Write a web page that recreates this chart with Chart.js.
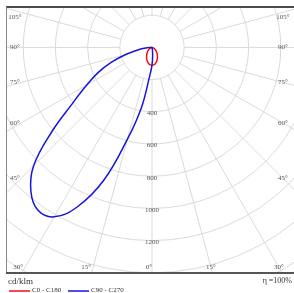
<!DOCTYPE html>
<html>
<head>
<meta charset="utf-8">
<script src="https://cdn.jsdelivr.net/npm/chart.js@4"></script>
<style>
  html, body { margin: 0; padding: 0; background: #fff; }
  #wrap { width: 294px; height: 293px; position: relative; }
</style>
</head>
<body>
<div id="wrap"><canvas id="polar"></canvas></div>
<script>
// gamma angles (deg from nadir) and intensities in cd/klm
const gammaAngles = [0, 5, 10, 15, 20, 25, 30, 35, 40, 45, 50, 55, 60, 65, 70, 75, 80, 85, 90];
const c0   = [110, 109, 105, 98, 88, 78, 68, 58, 49, 40, 32, 25, 19, 13, 9, 5, 3, 1, 0];
const c180 = [110, 109, 105, 98, 88, 78, 68, 58, 49, 40, 32, 25, 19, 13, 9, 5, 3, 1, 0];
const c90  = [110, 45, 12, 3, 0, 0, 0, 0, 0, 0, 0, 0, 0, 0, 0, 0, 0, 0, 0];
const c270 = [110, 185, 380, 590, 880, 1090, 1215, 1235, 1170, 1040, 810, 600, 470, 370, 270, 165, 90, 40, 0];

const ringValues = [200, 400, 600, 800, 1000, 1200, 1400, 1600, 1800];
const ringLabels = [400, 600, 800, 1000, 1200];
const angleTicks = [0, 15, 30, 45, 60, 75, 90, 105];

// left side plane goes 90 -> 0, right side 0 -> 90
function loop(left, right) {
  const pts = [];
  for (let i = gammaAngles.length - 1; i >= 0; i--) {
    const t = gammaAngles[i] * Math.PI / 180;
    pts.push({ x: -left[i] * Math.sin(t), y: -left[i] * Math.cos(t) });
  }
  for (let i = 1; i < gammaAngles.length; i++) {
    const t = gammaAngles[i] * Math.PI / 180;
    pts.push({ x: right[i] * Math.sin(t), y: -right[i] * Math.cos(t) });
  }
  return pts;
}

const FONT = "'Liberation Serif', 'DejaVu Serif', serif";

const polarGrid = {
  id: 'polarGrid',
  beforeDatasetsDraw(chart) {
    const { ctx, chartArea: a, scales: { x, y } } = chart;
    const cx = x.getPixelForValue(0), cy = y.getPixelForValue(0);
    const k = x.getPixelForValue(1) - cx;
    ctx.save();
    ctx.beginPath();
    ctx.rect(a.left, a.top, a.right - a.left, a.bottom - a.top);
    ctx.clip();
    ctx.strokeStyle = '#dadada';
    ctx.lineWidth = 1;
    ringValues.forEach(r => {
      ctx.beginPath();
      ctx.arc(cx, cy, r * k, 0, Math.PI * 2);
      ctx.stroke();
    });
    for (let g = -165; g <= 180; g += 15) {
      const t = g * Math.PI / 180;
      ctx.beginPath();
      ctx.moveTo(cx + 200 * k * Math.sin(t), cy + 200 * k * Math.cos(t));
      ctx.lineTo(cx + 2500 * k * Math.sin(t), cy + 2500 * k * Math.cos(t));
      ctx.stroke();
    }

    ctx.fillStyle = '#555';
    ctx.font = '7px ' + FONT;
    ctx.textAlign = 'center';
    ctx.textBaseline = 'middle';
    ringLabels.forEach(r => ctx.fillText(String(r), cx, cy + r * k + 1.5));

    // angle labels along the frame
    const bottomY = a.bottom - 6, sideDist = a.right - 11 - cx;
    angleTicks.forEach(g => {
      const t = g * Math.PI / 180;
      [-1, 1].forEach(s => {
        if (g === 0 && s > 0) return;
        let px, py;
        if (g === 0) {
          px = cx - 3;
          py = bottomY;
        } else if (g < 45) {
          px = cx + s * (bottomY - cy) * Math.tan(t) + (s < 0 ? -7 : 0);
          py = bottomY;
        } else {
          px = s < 0 ? a.left + 9 : a.right - 11;
          py = Math.max(a.top + 10, cy + sideDist / Math.tan(t));
        }
        ctx.fillText(g + '°', px, py);
      });
    });
    ctx.restore();
  },
  afterDraw(chart) {
    const { ctx, chartArea: a } = chart;
    ctx.save();
    ctx.strokeStyle = '#111';
    ctx.lineWidth = 1.5;
    ctx.beginPath(); ctx.moveTo(a.left, a.top); ctx.lineTo(a.right, a.top); ctx.stroke();
    ctx.strokeStyle = '#888';
    ctx.lineWidth = 1;
    ctx.beginPath(); ctx.moveTo(a.left + 0.5, a.top); ctx.lineTo(a.left + 0.5, a.bottom); ctx.stroke();
    ctx.strokeStyle = '#555';
    ctx.lineWidth = 2;
    ctx.beginPath(); ctx.moveTo(a.left, a.bottom); ctx.lineTo(a.right, a.bottom); ctx.stroke();

    ctx.fillStyle = '#333';
    ctx.textBaseline = 'middle';
    ctx.font = '9px ' + FONT;
    ctx.textAlign = 'left';
    ctx.fillText('cd/klm', 8, 282);
    ctx.font = '8px ' + FONT;
    ctx.textAlign = 'right';
    ctx.fillText('η =100%', 292, 281);

    ctx.font = '7px ' + FONT;
    ctx.textAlign = 'left';
    let lx = 9;
    chart.data.datasets.forEach(ds => {
      ctx.strokeStyle = ds.borderColor;
      ctx.lineWidth = 1.5;
      ctx.beginPath(); ctx.moveTo(lx, 291); ctx.lineTo(lx + 21, 291); ctx.stroke();
      ctx.fillText(ds.label, lx + 23, 290);
      lx += 59;
    });
    ctx.restore();
  }
};

new Chart(document.getElementById('polar'), {
  type: 'scatter',
  data: {
    datasets: [{
      label: 'C0 - C180',
      data: loop(c180, c0),
      borderColor: '#ee1111',
      borderWidth: 1.5,
      order: 2
    }, {
      label: 'C90 - C270',
      data: loop(c270, c90),
      borderColor: '#1515dd',
      borderWidth: 1.5,
      order: 1
    }]
  },
  options: {
    responsive: true,
    maintainAspectRatio: false,
    animation: false,
    layout: { padding: { left: 6, top: 7, right: 0, bottom: 20 } },
    elements: { point: { radius: 0 }, line: { tension: 0.4 } },
    datasets: { scatter: { showLine: true } },
    scales: {
      x: { type: 'linear', min: -907, max: 882, display: false },
      y: { type: 'linear', min: -1401, max: 251, display: false }
    },
    plugins: { legend: { display: false }, tooltip: { enabled: false } }
  },
  plugins: [polarGrid]
});
</script>
</body>
</html>
